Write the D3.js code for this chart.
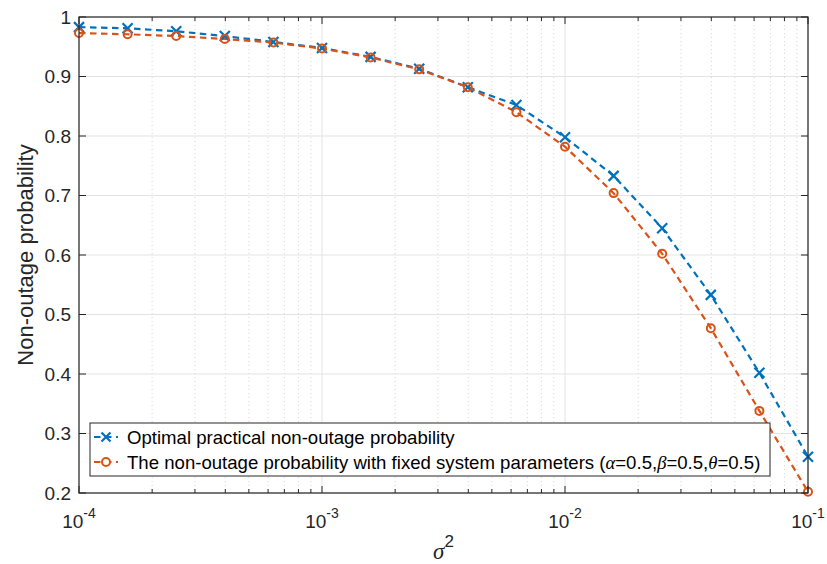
<!DOCTYPE html>
<html>
<head>
<meta charset="utf-8">
<script src="https://cdn.jsdelivr.net/npm/d3@7"></script>
<style>
body { margin: 0; background: #fff; }
svg { font-family: "Liberation Sans", Arial, sans-serif; }
</style>
</head>
<body>
<svg width="827" height="564"></svg>
<script>
// sigma^2 values (5 per decade)
var sigma2 = [1e-4, 1.585e-4, 2.512e-4, 3.981e-4, 6.310e-4,
	1e-3, 1.585e-3, 2.512e-3, 3.981e-3, 6.310e-3,
	1e-2, 1.585e-2, 2.512e-2, 3.981e-2, 6.310e-2, 1e-1];
var optimal = [0.983, 0.981, 0.976, 0.968, 0.958, 0.948, 0.933, 0.913, 0.882, 0.852,
	0.798, 0.733, 0.645, 0.533, 0.402, 0.261];
var fixed = [0.973, 0.971, 0.968, 0.963, 0.957, 0.947, 0.932, 0.912, 0.882, 0.840,
	0.782, 0.704, 0.602, 0.477, 0.338, 0.202];
var xDecades = [-4, -3, -2, -1];
var yTicks = [0.2, 0.3, 0.4, 0.5, 0.6, 0.7, 0.8, 0.9, 1];

var svg = d3.select("svg"),
	margin = {top: 17, right: 19, bottom: 71, left: 79},
	width = 827 - margin.left - margin.right,
	height = 564 - margin.top - margin.bottom,
	g = svg.append("g").attr("transform", "translate(" + margin.left + "," + margin.top + ")");

var x = d3.scaleLog().domain([1e-4, 1e-1]).range([0, width]);
var y = d3.scaleLinear().domain([0.2, 1]).range([height, 0]);

var blue = "#0072BD", orange = "#D95319", axisCol = "#262626";

// minor ticks
var minor = [];
xDecades.slice(0, 3).forEach(function (e) {
	for (var k = 2; k <= 9; k++) minor.push(k * Math.pow(10, e));
});

// grid
g.append("g").selectAll("line").data(minor).enter().append("line")
	.attr("x1", function (d) { return x(d); }).attr("x2", function (d) { return x(d); })
	.attr("y1", 0).attr("y2", height)
	.attr("stroke", "#d6d6d6").attr("stroke-width", 1).attr("stroke-dasharray", "1,3");
g.append("g").selectAll("line").data(xDecades).enter().append("line")
	.attr("x1", function (d) { return x(Math.pow(10, d)); }).attr("x2", function (d) { return x(Math.pow(10, d)); })
	.attr("y1", 0).attr("y2", height)
	.attr("stroke", "#e3e3e3").attr("stroke-width", 1);
g.append("g").selectAll("line").data(yTicks).enter().append("line")
	.attr("x1", 0).attr("x2", width)
	.attr("y1", function (d) { return y(d); }).attr("y2", function (d) { return y(d); })
	.attr("stroke", "#e3e3e3").attr("stroke-width", 1);

// series
function series(vals, color) {
	var line = d3.line()
		.x(function (d, i) { return x(sigma2[i]); })
		.y(function (d) { return y(d); });
	g.append("path").datum(vals)
		.attr("fill", "none").attr("stroke", color)
		.attr("stroke-width", 2.2).attr("stroke-dasharray", "6.5,4.5")
		.attr("d", line);
}
series(optimal, blue);
series(fixed, orange);

function crossMark(sel, cx, cy, s) {
	sel.append("path")
		.attr("d", "M" + (cx - s) + "," + (cy - s) + "L" + (cx + s) + "," + (cy + s) +
			"M" + (cx - s) + "," + (cy + s) + "L" + (cx + s) + "," + (cy - s))
		.attr("stroke", blue).attr("stroke-width", 2.2).attr("fill", "none");
}
optimal.forEach(function (d, i) { crossMark(g, x(sigma2[i]), y(d), 5); });
g.append("g").selectAll("circle").data(fixed).enter().append("circle")
	.attr("cx", function (d, i) { return x(sigma2[i]); })
	.attr("cy", function (d) { return y(d); })
	.attr("r", 4).attr("fill", "none")
	.attr("stroke", orange).attr("stroke-width", 2);

// axes box and ticks
g.append("rect").attr("width", width).attr("height", height)
	.attr("fill", "none").attr("stroke", axisCol).attr("stroke-width", 1.2);

var tk = g.append("g").attr("stroke", axisCol).attr("stroke-width", 1);
xDecades.forEach(function (e) {
	var px = x(Math.pow(10, e));
	tk.append("line").attr("x1", px).attr("x2", px).attr("y1", height).attr("y2", height - 7);
	tk.append("line").attr("x1", px).attr("x2", px).attr("y1", 0).attr("y2", 7);
});
minor.forEach(function (d) {
	var px = x(d);
	tk.append("line").attr("x1", px).attr("x2", px).attr("y1", height).attr("y2", height - 4);
	tk.append("line").attr("x1", px).attr("x2", px).attr("y1", 0).attr("y2", 4);
});
yTicks.forEach(function (d) {
	var py = y(d);
	tk.append("line").attr("x1", 0).attr("x2", 7).attr("y1", py).attr("y2", py);
	tk.append("line").attr("x1", width).attr("x2", width - 7).attr("y1", py).attr("y2", py);
});

// tick labels
g.append("g").selectAll("text").data(yTicks).enter().append("text")
	.attr("x", -8).attr("y", function (d) { return y(d); })
	.attr("dy", "0.36em").attr("text-anchor", "end")
	.attr("font-size", 19).attr("fill", axisCol)
	.text(function (d) { return d === 1 ? "1" : d3.format(".1f")(d); });

var xl = g.append("g").selectAll("text").data(xDecades).enter().append("text")
	.attr("x", function (d) { return x(Math.pow(10, d)); })
	.attr("y", height + 35)
	.attr("text-anchor", "middle").attr("font-size", 19).attr("fill", axisCol);
xl.append("tspan").text("10");
xl.append("tspan").attr("dy", -10).attr("font-size", 14).text(function (d) { return "-" + Math.abs(d); });

// axis labels
g.append("text")
	.attr("transform", "translate(-46," + (height / 2) + ") rotate(-90)")
	.attr("text-anchor", "middle").attr("font-size", 22).attr("fill", axisCol)
	.text("Non-outage probability");
var xt = g.append("text")
	.attr("x", width / 2).attr("y", height + 66)
	.attr("text-anchor", "middle").attr("fill", axisCol);
xt.append("tspan").attr("font-family", "Liberation Serif, serif").attr("font-style", "italic")
	.attr("font-size", 23).text("\u03c3");
xt.append("tspan").attr("dy", -12).attr("font-size", 17).text("2");

// legend
var leg = g.append("g").attr("transform", "translate(" + (90 - margin.left) + "," + (423 - margin.top) + ")");
leg.append("rect").attr("width", 680).attr("height", 53)
	.attr("fill", "#fff").attr("stroke", axisCol).attr("stroke-width", 1);
var le1 = leg.append("g").attr("transform", "translate(0,14)");
le1.append("line").attr("x1", 4).attr("x2", 28).attr("stroke", blue).attr("stroke-width", 2.2).attr("stroke-dasharray", "6.5,4.5");
crossMark(le1, 16, 0, 4.5);
le1.append("text").attr("x", 37).attr("dy", "0.36em").attr("font-size", 18.6).attr("fill", "#000")
	.text("Optimal practical non-outage probability");
var le2 = leg.append("g").attr("transform", "translate(0,39)");
le2.append("line").attr("x1", 4).attr("x2", 28).attr("stroke", orange).attr("stroke-width", 2.2).attr("stroke-dasharray", "6.5,4.5");
le2.append("circle").attr("cx", 16).attr("r", 4).attr("fill", "#fff").attr("stroke", orange).attr("stroke-width", 2);
var t2 = le2.append("text").attr("x", 37).attr("dy", "0.36em").attr("font-size", 18.6).attr("fill", "#000");
t2.append("tspan").text("The non-outage probability with fixed system parameters (");
[["\u03b1", "=0.5,"], ["\u03b2", "=0.5,"], ["\u03b8", "=0.5)"]].forEach(function (p) {
	t2.append("tspan").attr("font-family", "Liberation Serif, serif").attr("font-style", "italic").text(p[0]);
	t2.append("tspan").text(p[1]);
});
</script>
</body>
</html>
